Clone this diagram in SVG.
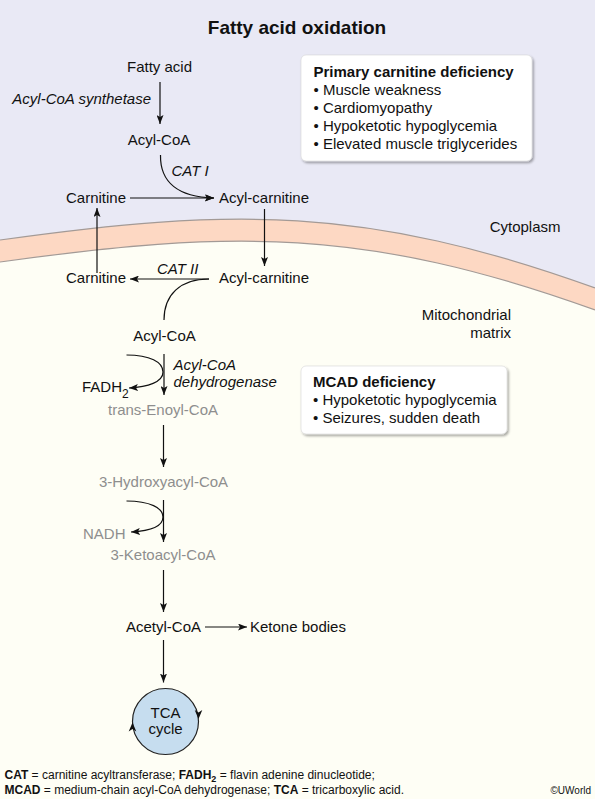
<svg xmlns="http://www.w3.org/2000/svg" width="595" height="799" viewBox="0 0 595 799">
<defs>
<style>
text{font-family:"Liberation Sans",Arial,sans-serif;font-size:15px;fill:#111;}
.it{font-style:italic;}
.b{font-weight:bold;}
.g{fill:#8e8e8e;}
.mid{text-anchor:middle;}
.end{text-anchor:end;}
.ln{fill:none;stroke:#111;stroke-width:1.2;}
.ar{marker-end:url(#ah);}
.box{fill:#fff;stroke:#d6d6d6;stroke-width:0.6;filter:url(#sh);}
.leg{font-size:12px;}
.mem{fill:none;stroke:#a39a96;stroke-width:1.2;}
</style>
<marker id="ah" viewBox="0 0 9 7" refX="9" refY="3.5" markerWidth="9" markerHeight="7" markerUnits="userSpaceOnUse" orient="auto">
<path d="M0,0 L9,3.5 L0,7 L2,3.5 Z" fill="#111"/>
</marker>
<filter id="sh" x="-10%" y="-10%" width="125%" height="130%">
<feDropShadow dx="1.5" dy="1.8" stdDeviation="1.2" flood-color="#000" flood-opacity="0.35"/>
</filter>
</defs>

<g id="background">
<rect x="0" y="0" width="595" height="799" fill="#e9e9f5"/>
<path d="M0,240 C230,208 365,205 595,288 L595,799 L0,799 Z" fill="#fdd8c3"/>
<path d="M0,262 C230,230 365,227 595,310 L595,799 L0,799 Z" fill="#fefef5"/>
<path class="mem" d="M0,240 C230,208 365,205 595,288"/>
<path class="mem" d="M0,262 C230,230 365,227 595,310"/>
</g>

<text id="title" class="b mid" x="297" y="34" style="font-size:19px">Fatty acid oxidation</text>

<g id="connectors">
<line class="ln ar" x1="160" y1="82" x2="160" y2="124"/>
<path class="ln ar" d="M160.5,155 C160,182 178,197 214,198"/>
<line class="ln ar" x1="130" y1="198" x2="214" y2="198"/>
<line class="ln ar" x1="264.5" y1="209" x2="264.5" y2="266"/>
<line class="ln ar" x1="97" y1="273" x2="97" y2="208"/>
<line class="ln ar" x1="209" y1="279" x2="130" y2="279"/>
<path class="ln" d="M164,320 C164,295 180,279 209,279"/>
<line class="ln ar" x1="164" y1="354" x2="164" y2="395"/>
<path class="ln ar" d="M126.5,355 C150,355 163,362 163,372 C163,382 148,387 129,388"/>
<line class="ln ar" x1="163.5" y1="425" x2="163.5" y2="467"/>
<line class="ln ar" x1="163.5" y1="500" x2="163.5" y2="542"/>
<path class="ln ar" d="M126.5,501 C150,501 163,508 163,517 C163,527 148,531 131,532"/>
<line class="ln ar" x1="163.5" y1="570" x2="163.5" y2="612"/>
<line class="ln ar" x1="205" y1="627" x2="247" y2="627"/>
<line class="ln ar" x1="163.5" y1="640" x2="163.5" y2="682.5"/>
</g>

<g id="n-fatty-acid"><text class="mid" x="159.5" y="72">Fatty acid</text></g>
<g id="l-acs"><text class="it end" x="151" y="104">Acyl-CoA synthetase</text></g>
<g id="n-acylcoa-cyto"><text class="mid" x="159" y="145">Acyl-CoA</text></g>
<g id="l-cat1"><text class="it" x="171.5" y="176">CAT I</text></g>
<g id="n-carnitine-cyto"><text x="66" y="203">Carnitine</text></g>
<g id="n-acylcarnitine-cyto"><text x="219" y="203">Acyl-carnitine</text></g>
<g id="l-cytoplasm"><text class="end" x="560.5" y="232">Cytoplasm</text></g>
<g id="n-carnitine-mito"><text x="66" y="283">Carnitine</text></g>
<g id="l-cat2"><text class="it" x="157" y="273.5">CAT II</text></g>
<g id="n-acylcarnitine-mito"><text x="219" y="283">Acyl-carnitine</text></g>
<g id="l-matrix"><text class="end" x="511" y="320">Mitochondrial</text><text class="end" x="511" y="338">matrix</text></g>
<g id="n-acylcoa-mito"><text class="mid" x="164.5" y="341">Acyl-CoA</text></g>
<g id="l-acad"><text class="it" x="173.5" y="370">Acyl-CoA</text><text class="it" x="173.5" y="387">dehydrogenase</text></g>
<g id="n-fadh2"><text x="82" y="392">FADH<tspan style="font-size:12px" dy="6">2</tspan></text></g>
<g id="n-enoyl"><text class="mid g" x="163" y="415">trans-Enoyl-CoA</text></g>
<g id="n-hydroxy"><text class="mid g" x="163.5" y="487">3-Hydroxyacyl-CoA</text></g>
<g id="n-nadh"><text class="g" x="83" y="538.5">NADH</text></g>
<g id="n-keto"><text class="mid g" x="163" y="560">3-Ketoacyl-CoA</text></g>
<g id="n-acetyl"><text class="mid" x="163.5" y="631.5">Acetyl-CoA</text></g>
<g id="n-ketone"><text x="250" y="631.5">Ketone bodies</text></g>

<g id="n-tca">
<circle cx="165.5" cy="721.5" r="33" fill="#c6ddef" stroke="#222" stroke-width="1.2"/>
<path d="M198.5,719 L194.7,710 L198.5,712.5 L202.3,710 Z" fill="#111"/>
<path d="M132.5,722.5 L128.7,731.5 L132.5,729 L136.3,731.5 Z" fill="#111"/>
<text class="mid" x="165.5" y="717.5">TCA</text>
<text class="mid" x="165.5" y="734">cycle</text>
</g>

<g id="box-primary">
<rect class="box" x="301" y="55" width="231" height="106" rx="5"/>
<text class="b" x="313.5" y="77">Primary carnitine deficiency</text>
<text x="313.5" y="95">• Muscle weakness</text>
<text x="313.5" y="113">• Cardiomyopathy</text>
<text x="313.5" y="131">• Hypoketotic hypoglycemia</text>
<text x="313.5" y="149">• Elevated muscle triglycerides</text>
</g>

<g id="box-mcad">
<rect class="box" x="301" y="366" width="206" height="68" rx="5"/>
<text class="b" x="313" y="387">MCAD deficiency</text>
<text x="313" y="405">• Hypoketotic hypoglycemia</text>
<text x="313" y="423">• Seizures, sudden death</text>
</g>

<g id="legend">
<text class="leg" x="4.5" y="779"><tspan class="b">CAT</tspan> = carnitine acyltransferase; <tspan class="b">FADH</tspan><tspan class="b" style="font-size:9px" dy="3">2</tspan><tspan dy="-3"> = flavin adenine dinucleotide;</tspan></text>
<text class="leg" x="4.5" y="793.5"><tspan class="b">MCAD</tspan> = medium-chain acyl-CoA dehydrogenase; <tspan class="b">TCA</tspan> = tricarboxylic acid.</text>
<text class="end" x="591" y="793.5" style="font-size:10px">©UWorld</text>
</g>
</svg>
